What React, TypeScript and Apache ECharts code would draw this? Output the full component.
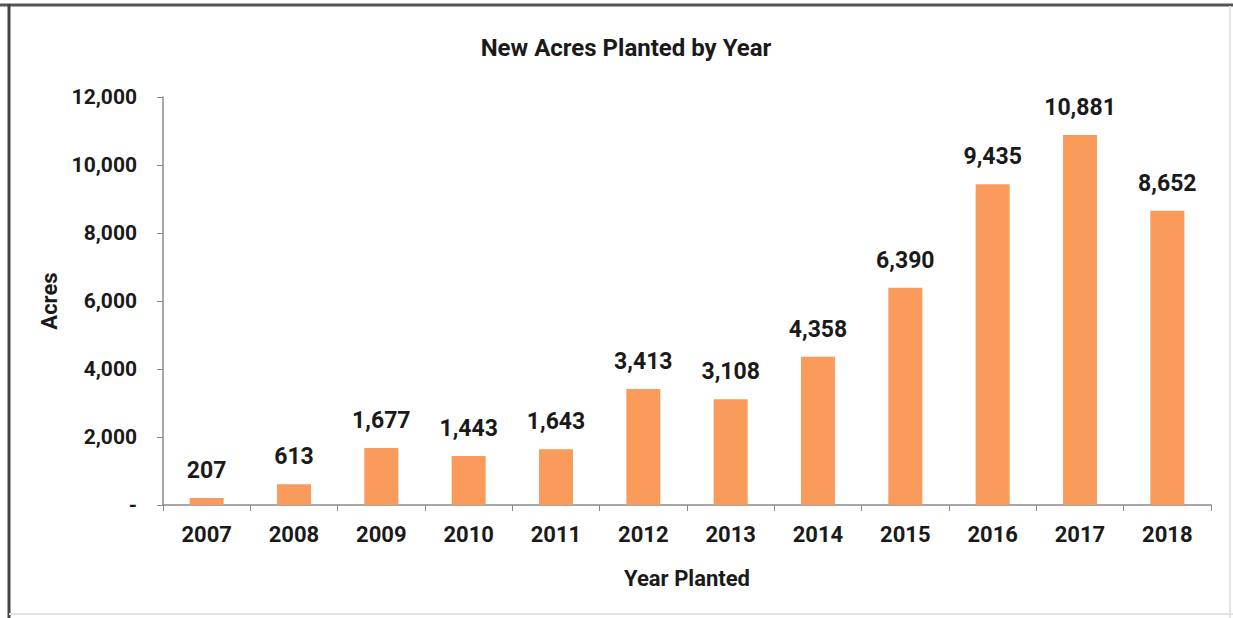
import React, { useEffect, useRef } from "react";
import * as echarts from "echarts";

const years = ["2007", "2008", "2009", "2010", "2011", "2012", "2013", "2014", "2015", "2016", "2017", "2018"];
const acres = [207, 613, 1677, 1443, 1643, 3413, 3108, 4358, 6390, 9435, 10881, 8652];
const yTicks = [0, 2000, 4000, 6000, 8000, 10000, 12000];

const FONT = "Roboto, 'Noto Sans', sans-serif";

const fmt = (v: number) => (v === 0 ? "-" : v.toLocaleString("en-US"));

export default function App() {
  const ref = useRef<HTMLDivElement>(null);
  useEffect(() => {
    if (!ref.current) return;
    const chart = echarts.init(ref.current, undefined, { renderer: "svg" });
    chart.setOption({
      animation: false,
      backgroundColor: "#ffffff",
      title: {
        text: "New Acres Planted by Year",
        left: 621,
        textAlign: "center",
        top: 31,
        textStyle: { fontFamily: FONT, fontWeight: "bold", fontSize: 24, color: "#1a1a1a" },
      },
      graphic: [
        { type: "line", shape: { x1: 0, y1: 5, x2: 1233, y2: 5 }, style: { stroke: "#555", lineWidth: 3 } },
        { type: "line", shape: { x1: 9, y1: 4, x2: 9, y2: 618 }, style: { stroke: "#444", lineWidth: 3 } },
        { type: "line", shape: { x1: 1230, y1: 6, x2: 1230, y2: 618 }, style: { stroke: "#e4e4e4", lineWidth: 2 } },
        { type: "line", shape: { x1: 9, y1: 614, x2: 1233, y2: 614 }, style: { stroke: "#e4e4e4", lineWidth: 2 } },
      ],
      grid: { left: 163, right: 22, top: 97, bottom: 113, containLabel: false },
      xAxis: {
        type: "category",
        data: years,
        name: "Year Planted",
        nameLocation: "middle",
        nameGap: 62,
        nameTextStyle: { fontFamily: FONT, fontWeight: "bold", fontSize: 22, color: "#1a1a1a" },
        axisLine: { lineStyle: { color: "#8a8a8a", width: 1.5 } },
        axisTick: { show: true, alignWithLabel: false, length: 6, lineStyle: { color: "#8a8a8a" } },
        axisLabel: { fontFamily: FONT, fontWeight: "bold", fontSize: 22, color: "#1a1a1a", margin: 18 },
      },
      yAxis: {
        type: "value",
        min: 0,
        max: 12000,
        interval: 2000,
        name: "Acres",
        nameLocation: "middle",
        nameGap: 100,
        nameRotate: 90,
        nameTextStyle: { fontFamily: FONT, fontWeight: "bold", fontSize: 22, color: "#1a1a1a" },
        splitLine: { show: false },
        axisLine: { show: true, lineStyle: { color: "#8a8a8a", width: 1.5 } },
        axisTick: { show: true, length: 6, lineStyle: { color: "#8a8a8a" } },
        axisLabel: {
          fontFamily: FONT,
          fontWeight: "bold",
          fontSize: 21,
          color: "#1a1a1a",
          margin: 26,
          customValues: yTicks,
          formatter: (v: number) => fmt(v),
        },
      },
      series: [
        {
          type: "bar",
          data: acres,
          barWidth: 34,
          itemStyle: { color: "#fa9a5b" },
          label: {
            show: true,
            position: "top",
            distance: 16,
            fontFamily: FONT,
            fontWeight: "bold",
            fontSize: 23,
            color: "#1a1a1a",
            formatter: (p: any) => fmt(p.value),
          },
        },
      ],
    });
    return () => chart.dispose();
  }, []);
  return (
    <div style={{ position: "fixed", left: 0, top: 0, width: 1233, height: 618, background: "#fff" }}>
      <div ref={ref} style={{ width: 1233, height: 618 }} />
    </div>
  );
}
